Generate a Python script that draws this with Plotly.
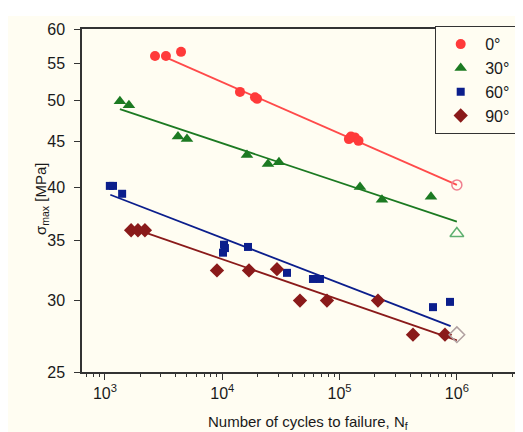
import plotly.graph_objects as go

# ---- data ----
n_0 = [2670, 3310, 4450, 14150, 19000, 19800, 120000, 125000, 135000, 145000]
s_0 = [56.0, 56.0, 56.6, 51.1, 50.4, 50.2, 45.3, 45.6, 45.5, 45.1]
n_0_runout = [1000000]
s_0_runout = [40.3]
fit_n_0 = [3300, 1000000]
fit_s_0 = [55.8, 40.3]

n_30 = [1340, 1600, 4190, 5000, 16240, 24530, 30430, 149300, 229800, 601400]
s_30 = [49.9, 49.4, 45.6, 45.3, 43.5, 42.5, 42.7, 40.1, 38.8, 39.1]
n_30_runout = [1000000]
s_30_runout = [35.6]
fit_n_30 = [1340, 1000000]
fit_s_30 = [48.9, 36.7]

n_60 = [1100, 1170, 1400, 10340, 10540, 10140, 16560, 35620, 59300, 68050, 625600, 873400]
s_60 = [40.2, 40.2, 39.4, 34.6, 34.3, 33.9, 34.4, 32.2, 31.7, 31.7, 29.5, 29.9]
fit_n_60 = [1110, 885000]
fit_s_60 = [39.3, 28.1]

n_90 = [1670, 1910, 2190, 9010, 16890, 29260, 45960, 78080, 212500, 422500, 791800]
s_90 = [35.9, 35.9, 35.9, 32.4, 32.4, 32.5, 30.0, 30.0, 30.0, 27.5, 27.5]
n_90_runout = [1000000]
s_90_runout = [27.5]
fit_n_90 = [2180, 1000000]
fit_s_90 = [35.7, 27.1]

labels = ["0°", "30°", "60°", "90°"]
x_tickvals = [1e3, 1e4, 1e5, 1e6]
x_ticktext = ["10<sup>3</sup>", "10<sup>4</sup>", "10<sup>5</sup>", "10<sup>6</sup>"]
y_tickvals = [25, 30, 35, 40, 45, 50, 55, 60]
x_title = "Number of cycles to failure, N<sub>f</sub>"
y_title = "σ<sub>max</sub> [MPa]"

RED = "#ff3a3a"
GREEN = "#1c7a22"
BLUE = "#0b1e8c"
DRED = "#8a1a1a"

fig = go.Figure()

def fit(xs, ys, color):
    fig.add_trace(go.Scatter(x=xs, y=ys, mode="lines", line=dict(color=color, width=1.8),
                             showlegend=False, hoverinfo="skip"))

fit(fit_n_0, fit_s_0, "#ff4a4a")
fit(fit_n_30, fit_s_30, GREEN)
fit(fit_n_60, fit_s_60, BLUE)
fit(fit_n_90, fit_s_90, DRED)

fig.add_trace(go.Scatter(x=n_0, y=s_0, mode="markers", name=labels[0],
                         marker=dict(symbol="circle", size=10, color=RED)))
fig.add_trace(go.Scatter(x=n_30, y=s_30, mode="markers", name=labels[1],
                         marker=dict(symbol="triangle-up", size=11, color=GREEN)))
fig.add_trace(go.Scatter(x=n_60, y=s_60, mode="markers", name=labels[2],
                         marker=dict(symbol="square", size=8, color=BLUE)))
fig.add_trace(go.Scatter(x=n_90, y=s_90, mode="markers", name=labels[3],
                         marker=dict(symbol="diamond", size=11, color=DRED)))

fig.add_trace(go.Scatter(x=n_0_runout, y=s_0_runout, mode="markers", showlegend=False,
                         marker=dict(symbol="circle-open", size=10, color="#f08090",
                                     line=dict(width=1.5))))
fig.add_trace(go.Scatter(x=n_30_runout, y=s_30_runout, mode="markers", showlegend=False,
                         marker=dict(symbol="triangle-up-open", size=12, color="#5fb070",
                                     line=dict(width=1.5))))
fig.add_trace(go.Scatter(x=n_90_runout, y=s_90_runout, mode="markers", showlegend=False,
                         marker=dict(symbol="diamond-open", size=12, color="#b0a0a0",
                                     line=dict(width=1.5))))

minor_vals = [m * 10 ** e for e in range(2, 7) for m in range(2, 10)]

FONT = "Liberation Sans, Arial, sans-serif"

fig.update_layout(
    width=523, height=432,
    margin=dict(l=74, r=0, t=21, b=68),
    paper_bgcolor="white",
    plot_bgcolor="#fffdf2",
    font=dict(family=FONT, size=15, color="#1a1a1a"),
    xaxis=dict(
        type="log", range=[2.804, 6.632],
        showgrid=False, zeroline=False,
        showline=True, linecolor="#333333", linewidth=1.5, mirror=True,
        ticks="outside", ticklen=6, tickwidth=1.2, tickcolor="#333333",
        tickmode="array", tickvals=x_tickvals, ticktext=x_ticktext,
        tickfont=dict(size=16),
        minor=dict(tickmode="array", tickvals=minor_vals, ticks="outside",
                   ticklen=3, tickwidth=1, tickcolor="#333333", showgrid=False),
    ),
    yaxis=dict(
        type="log", range=[1.39794, 1.778151],
        showgrid=False, zeroline=False,
        showline=True, linecolor="#333333", linewidth=1.5, mirror=False,
        ticks="outside", ticklen=6, tickwidth=1.2, tickcolor="#333333",
        tickmode="array", tickvals=y_tickvals, ticktext=[str(v) for v in y_tickvals],
        tickfont=dict(size=16), ticklabelstandoff=6,
    ),
    legend=dict(
        x=(427 - 74) / 449, y=1 + 3 / 343, xanchor="left", yanchor="top",
        bgcolor="#fffdf2", bordercolor="#333333", borderwidth=1.2,
        font=dict(size=16), itemwidth=39, tracegroupgap=0,
    ),
    annotations=[
        dict(text=x_title, xref="paper", yref="paper", x=(300 - 74) / 449,
             y=(364 - 415) / 343, xanchor="center", yanchor="middle",
             showarrow=False, font=dict(size=15)),
        dict(text=y_title, xref="paper", yref="paper", x=(33 - 74) / 449,
             y=(364 - 191) / 343, xanchor="center", yanchor="middle",
             textangle=-90, showarrow=False, font=dict(size=15)),
    ],
    shapes=[dict(type="rect", xref="paper", yref="paper", layer="below",
                 x0=-74 / 449, x1=1.0, y0=-68 / 343, y1=1 + 13 / 343,
                 fillcolor="#fffdf2", line=dict(width=0))],
)

fig.write_html("out.html")
